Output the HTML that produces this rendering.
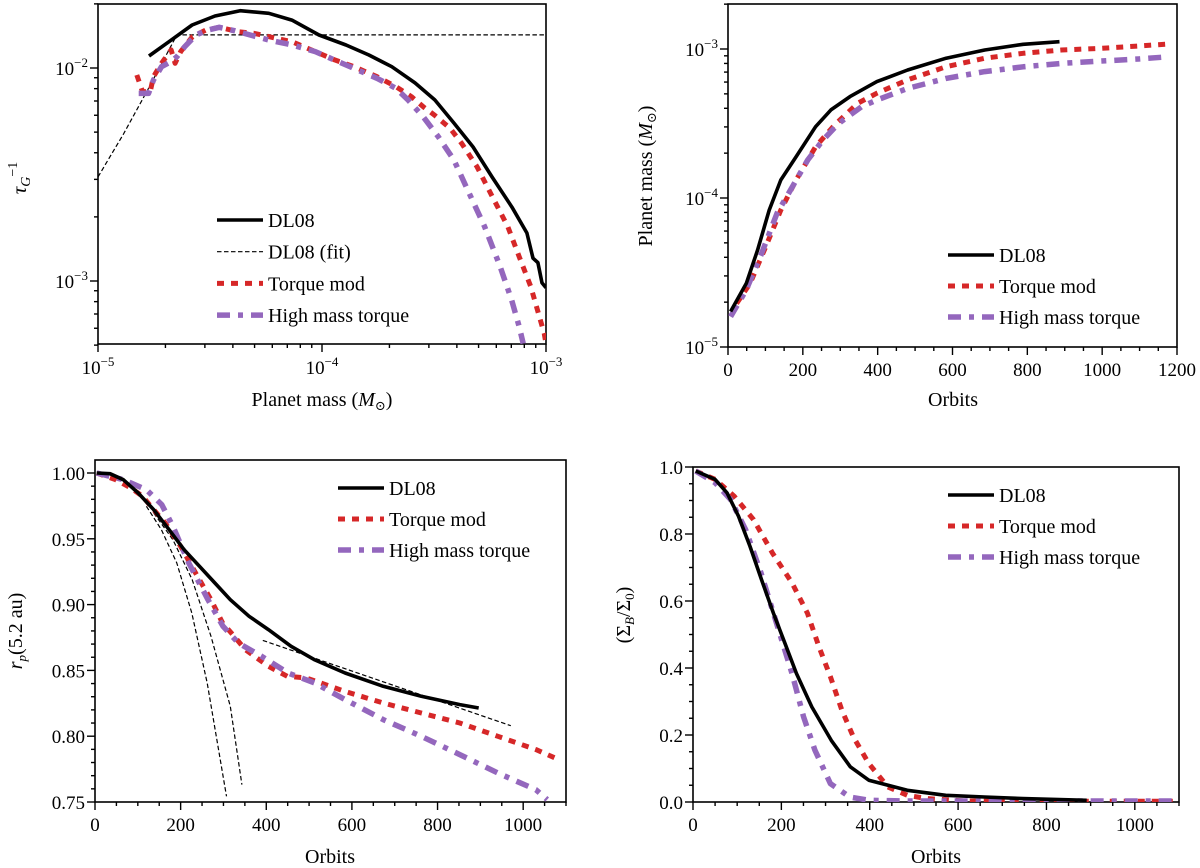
<!DOCTYPE html>
<html><head><meta charset="utf-8"><style>
html,body{margin:0;padding:0;background:#fff;}
svg{display:block;}
svg text{font-family:"Liberation Serif","DejaVu Serif",serif;}
</style></head><body>
<svg id="fig" width="1200" height="868" viewBox="0 0 1200 868" xmlns="http://www.w3.org/2000/svg" font-family="Liberation Serif, DejaVu Serif, serif"></svg>
<script>
// ---------- Panel 1 data (planet mass vs 1/tau_G) ----------
const p1DL08M = [1.69e-5,2.07e-5,2.63e-5,3.33e-5,4.31e-5,5.79e-5,7.34e-5,9.7e-5,1.28e-4,1.62e-4,2.05e-4,2.60e-4,3.19e-4,3.88e-4,4.72e-4,5.74e-4,7.05e-4,8.22e-4,8.75e-4,9.2e-4,9.6e-4,1.0e-3];
const p1DL08T = [0.01138,0.01327,0.01592,0.01754,0.01858,0.01807,0.01679,0.01429,0.01282,0.01151,0.01014,0.00851,0.00708,0.00552,0.00426,0.00308,0.00222,0.00168,0.00128,0.00122,0.00098,0.00093];
const p1FitM = [1e-5,1.3e-5,1.7e-5,2.25e-5,1e-3];
const p1FitT = [0.00308,0.0049,0.0082,0.0143,0.0143];
const p1TorqM = [1.49e-5,1.58e-5,1.71e-5,1.77e-5,1.92e-5,2.12e-5,2.21e-5,2.34e-5,2.64e-5,3.03e-5,3.48e-5,4.24e-5,4.96e-5,5.81e-5,7.36e-5,9.33e-5,1.14e-4,1.39e-4,1.76e-4,2.14e-4,2.51e-4,2.83e-4,3.18e-4,3.73e-4,4.20e-4,4.92e-4,5.76e-4,6.75e-4,7.59e-4,8.55e-4,9.25e-4,9.82e-4,1.0e-3];
const p1TorqT = [0.00927,0.00775,0.00775,0.0091,0.01052,0.01216,0.01052,0.01194,0.01403,0.01507,0.01552,0.01479,0.01455,0.01403,0.01327,0.01194,0.01092,0.01014,0.0091,0.00817,0.00733,0.00658,0.00601,0.00521,0.00443,0.00344,0.00249,0.0018,0.0013,0.00094,0.000705,0.000568,0.000509];
const p1HighM = [1.52e-5,1.68e-5,1.77e-5,1.92e-5,2.12e-5,2.25e-5,2.44e-5,2.74e-5,3.09e-5,3.48e-5,4.07e-5,4.96e-5,5.81e-5,7.36e-5,9.33e-5,1.18e-4,1.44e-4,1.76e-4,2.14e-4,2.42e-4,2.83e-4,3.31e-4,3.88e-4,4.54e-4,5.32e-4,6.24e-4,7.02e-4,7.59e-4,7.91e-4];
const p1HighT = [0.0076,0.0076,0.00879,0.01014,0.01072,0.0113,0.0126,0.0143,0.01507,0.01552,0.01496,0.01413,0.01352,0.01282,0.01194,0.01072,0.0098,0.00895,0.00803,0.00708,0.0059,0.00475,0.0037,0.00258,0.0018,0.00117,0.000815,0.00061,0.000509];
// ---------- Panel 2 data (orbits vs planet mass) ----------
const p2DL08O = [7,49,79,110,141,182,234,275,326,398,480,583,686,789,886];
const p2DL08M = [1.73e-5,2.67e-5,4.48e-5,8.3e-5,1.32e-4,1.89e-4,3.01e-4,3.9e-4,4.79e-4,6.04e-4,7.23e-4,8.67e-4,9.85e-4,1.076e-3,1.12e-3];
const p2TorqO = [23,59,100,141,182,234,285,347,398,480,583,686,789,891,994,1097,1179];
const p2TorqM = [1.96e-5,2.67e-5,4.65e-5,8.3e-5,1.32e-4,2.21e-4,3.09e-4,4.33e-4,5.05e-4,6.2e-4,7.61e-4,8.67e-4,9.36e-4,9.85e-4,1.01e-3,1.047e-3,1.08e-3];
const p2HighO = [7,49,90,131,172,213,254,296,357,398,480,583,686,789,891,994,1097,1158];
const p2HighM = [1.6e-5,2.42e-5,4.26e-5,7.9e-5,1.19e-4,1.8e-4,2.45e-4,3.17e-4,4.1e-4,4.55e-4,5.44e-4,6.35e-4,7.05e-4,7.6e-4,8.0e-4,8.3e-4,8.57e-4,8.8e-4];
// ---------- Panel 3 data (orbits vs r_p) ----------
const p3DL08O = [4,35,66,101,137,173,208,244,280,316,360,405,458,512,584,673,762,852,896];
const p3DL08R = [1.0,0.9995,0.9949,0.9848,0.9721,0.9569,0.9417,0.9291,0.9164,0.9037,0.8911,0.8810,0.8683,0.8582,0.8480,0.8379,0.8303,0.8240,0.8214];
const p3TorqO = [4,48,84,111,137,164,200,235,271,298,325,351,405,449,494,538,583,673,762,852,941,1030,1083];
const p3TorqR = [1.0,0.9949,0.9886,0.9823,0.9721,0.9620,0.9443,0.9240,0.9037,0.8860,0.8759,0.8658,0.8531,0.8455,0.8442,0.8392,0.8341,0.8252,0.8176,0.8100,0.7999,0.7898,0.7822];
const p3HighO = [4,66,120,156,182,219,264,299,335,389,451,513,584,673,762,852,941,1030,1056];
const p3HighR = [1.0,0.9949,0.9873,0.9759,0.9595,0.9316,0.9037,0.8835,0.8708,0.8607,0.8480,0.8404,0.8278,0.8126,0.7999,0.7860,0.7720,0.7593,0.7518];
const p3FitAO = [120,155,191,226,262,307];
const p3FitAR = [0.9747,0.9569,0.9316,0.8936,0.8404,0.7543];
const p3FitBO = [137,182,227,271,316,343];
const p3FitBR = [0.9696,0.9493,0.9189,0.8759,0.8227,0.7632];
const p3FitCO = [392,971];
const p3FitCR = [0.8728,0.8080];
// ---------- Panel 4 data (orbits vs Sigma ratio) ----------
const p4DL08O = [6,50,77,103,129,155,182,208,234,269,313,356,398,485,572,660,747,891];
const p4DL08S = [0.988,0.963,0.923,0.853,0.763,0.664,0.564,0.474,0.384,0.284,0.184,0.105,0.065,0.035,0.020,0.015,0.010,0.005];
const p4TorqO = [6,50,93,137,180,224,259,285,311,337,363,398,441,485,529,616,747,1096];
const p4TorqS = [0.988,0.963,0.913,0.843,0.743,0.654,0.564,0.464,0.374,0.274,0.194,0.115,0.045,0.020,0.010,0.003,0.002,0.002];
const p4HighO = [6,50,85,119,154,189,224,250,276,311,355,398,485,1096];
const p4HighS = [0.988,0.953,0.903,0.813,0.684,0.534,0.384,0.255,0.155,0.055,0.015,0.005,0.003,0.003];
// tick labels
const p3XTicks = [0,200,400,600,800,1000];
const p3YTicks = ["0.75","0.80","0.85","0.90","0.95","1.00"];
const p4YTicks = ["0.0","0.2","0.4","0.6","0.8","1.0"];
const p2XTicks = [0,200,400,600,800,1000,1200];

const NS = "http://www.w3.org/2000/svg";
const fig = document.getElementById('fig');
function mk(tag, attrs, parent){
  const e = document.createElementNS(NS, tag);
  for (const k in attrs) e.setAttribute(k, attrs[k]);
  (parent||fig).appendChild(e);
  return e;
}
const STY = {
  dl08: {stroke:'#000', 'stroke-width':3.6, fill:'none'},
  fit: {stroke:'#000', 'stroke-width':1.2, fill:'none', 'stroke-dasharray':'4.5,2.5'},
  torq: {stroke:'#d62728', 'stroke-width':5, fill:'none', 'stroke-dasharray':'7,7'},
  high: {stroke:'#9467bd', 'stroke-width':5.5, fill:'none', 'stroke-dasharray':'13,8,5,8'}
};
function line(xs, ys, sx, sy, name, clip){
  let d = '';
  for (let i=0;i<xs.length;i++) d += (i?'L':'M') + sx(xs[i]).toFixed(1) + ',' + sy(ys[i]).toFixed(1);
  const p = mk('path', Object.assign({d:d, 'clip-path':'url(#'+clip+')', 'stroke-linejoin':'round'}, STY[name]));
  
  
  return p;
}
function frame(x0,y0,x1,y1,id){
  const cp = mk('clipPath', {id:id});
  mk('rect', {x:x0,y:y0,width:x1-x0,height:y1-y0}, cp);
  const r = mk('rect', {x:x0,y:y0,width:x1-x0,height:y1-y0,fill:'none',stroke:'#000','stroke-width':1.6});
  
  
}
function tickX(x,y,len){ const t=mk('line',{x1:x,y1:y,x2:x,y2:y+len,stroke:'#000','stroke-width':1.4});
    }
function tickY(x,y,len){ const t=mk('line',{x1:x,y1:y,x2:x-len,y2:y,stroke:'#000','stroke-width':1.4});
    }
function text(x,y,s,anchor,size,name){
  const t = mk('text',{x:x,y:y,'text-anchor':anchor||'middle','font-size':size||19,fill:'#000'});
  t.textContent = s;
  
  
  return t;
}
function powLabel(x,y,exp,anchor,name){
  const t = mk('text',{x:x,y:y,'text-anchor':anchor,'font-size':19,fill:'#000'});
  
  
  const a = mk('tspan',{},t); a.textContent='10';
  const b = mk('tspan',{dy:-8,'font-size':13},t); b.textContent='\u2212'+exp;
}
function legend(x0,y0,dy,entries){
  entries.forEach((e,i)=>{
    const y = y0+i*dy;
    const l = mk('line', Object.assign({x1:x0,y1:y,x2:x0+46,y2:y}, STY[e[0]]));
    
    
    text(x0+51,y+7,e[1],'start',20,'legend-entry-'+e[0]);
  });
}

// ================= Panel 1 =================
(function(){
  const x0=98,x1=546,y0=4,y1=344;
  const sx = v => x0 + (Math.log10(v)+5)/2*(x1-x0);
  const sy = v => 68 + (-2-Math.log10(v))*213;
  frame(x0,y0,x1,y1,'c1');
  line(p1FitM,p1FitT,sx,sy,'fit','c1');
  line(p1TorqM,p1TorqT,sx,sy,'torq','c1');
  line(p1HighM,p1HighT,sx,sy,'high','c1');
  line(p1DL08M,p1DL08T,sx,sy,'dl08','c1');
  for (let e=-5;e<=-3;e++){
    tickX(sx(Math.pow(10,e)),y1,8);
    if (e<-3) for (let m=2;m<10;m++) tickX(sx(m*Math.pow(10,e)),y1,4);
  }
  powLabel(sx(1e-5),y1+30,5,'middle','x-tick-label');
  powLabel(sx(1e-4),y1+30,4,'middle','x-tick-label');
  powLabel(sx(1e-3),y1+30,3,'middle','x-tick-label');
  [1e-3,1e-2].forEach(v=>tickY(x0,sy(v),8));
  [5e-4,6e-4,7e-4,8e-4,9e-4,2e-3,3e-3,4e-3,5e-3,6e-3,7e-3,8e-3,9e-3,2e-2].forEach(v=>{ if(sy(v)>=y0-0.5) tickY(x0,sy(v),4); });
  powLabel(x0-10,sy(1e-2)+7,2,'end','y-tick-label');
  powLabel(x0-10,sy(1e-3)+7,3,'end','y-tick-label');
  const xl = mk('text',{x:322,y:406,'text-anchor':'middle','font-size':20});
   
  xl.innerHTML = 'Planet mass (<tspan font-style="italic">M</tspan><tspan font-size="13" dy="4">\u2299</tspan><tspan dy="-4">)</tspan>';
  const yl = mk('text',{x:0,y:0,'text-anchor':'middle','font-size':21,transform:'translate(26,178) rotate(-90)'});
   
  yl.innerHTML = '<tspan font-style="italic">\u03C4</tspan><tspan font-style="italic" font-size="14" dy="4">G</tspan><tspan font-size="14" dy="-13">\u22121</tspan>';
  legend(217,220,31.7,[['dl08','DL08'],['fit','DL08 (fit)'],['torq','Torque mod'],['high','High mass torque']]);
})();

// ================= Panel 2 =================
(function(){
  const x0=728,x1=1177,y0=4,y1=347;
  const sx = v => x0 + v/1200*(x1-x0);
  const sy = v => 49 + (-3-Math.log10(v))*149;
  frame(x0,y0,x1,y1,'c2');
  line(p2TorqO,p2TorqM,sx,sy,'torq','c2');
  line(p2HighO,p2HighM,sx,sy,'high','c2');
  line(p2DL08O,p2DL08M,sx,sy,'dl08','c2');
  for (let v=0;v<=1200;v+=50) tickX(sx(v),y1,v%200===0?8:4);
  p2XTicks.forEach(v=>text(sx(v),y1+29,String(v),'middle',19,'x-tick-label'));
  [1e-5,1e-4,1e-3].forEach(v=>tickY(x0,sy(v),8));
  [2e-5,3e-5,4e-5,5e-5,6e-5,7e-5,8e-5,9e-5,2e-4,3e-4,4e-4,5e-4,6e-4,7e-4,8e-4,9e-4,2e-3].forEach(v=>{ if(sy(v)>=y0-0.5) tickY(x0,sy(v),4); });
  powLabel(x0-10,sy(1e-3)+7,3,'end','y-tick-label');
  powLabel(x0-10,sy(1e-4)+7,4,'end','y-tick-label');
  powLabel(x0-10,sy(1e-5)+7,5,'end','y-tick-label');
  text(953,406,'Orbits','middle',20,'x-axis-title');
  const yl = mk('text',{x:0,y:0,'text-anchor':'middle','font-size':20,transform:'translate(652,176) rotate(-90)'});
   
  yl.innerHTML = 'Planet mass (<tspan font-style="italic">M</tspan><tspan font-size="13" dy="4">\u2299</tspan><tspan dy="-4">)</tspan>';
  legend(948,255,31,[['dl08','DL08'],['torq','Torque mod'],['high','High mass torque']]);
})();

// ================= Panel 3 =================
(function(){
  const x0=95,x1=566,y0=460,y1=802;
  const sx = v => x0 + v/1100*(x1-x0);
  const sy = v => 473 + (1-v)/0.25*(802-473);
  frame(x0,y0,x1,y1,'c3');
  line(p3FitAO,p3FitAR,sx,sy,'fit','c3');
  line(p3FitBO,p3FitBR,sx,sy,'fit','c3');
  line(p3FitCO,p3FitCR,sx,sy,'fit','c3');
  line(p3TorqO,p3TorqR,sx,sy,'torq','c3');
  line(p3HighO,p3HighR,sx,sy,'high','c3');
  line(p3DL08O,p3DL08R,sx,sy,'dl08','c3');
  for (let v=0;v<=1100;v+=50) tickX(sx(v),y1,v%200===0?8:4);
  p3XTicks.forEach(v=>text(sx(v),y1+29,String(v),'middle',19,'x-tick-label'));
  for (let k=0;k<=26;k++){ const v=0.75+k*0.01; if (sy(v)>=y0) tickY(x0,sy(v),k%5===0?8:4); }
  p3YTicks.forEach(s=>text(x0-10,sy(parseFloat(s))+7,s,'end',19,'y-tick-label'));
  text(330,863,'Orbits','middle',20,'x-axis-title');
  const yl = mk('text',{x:0,y:0,'text-anchor':'middle','font-size':20,transform:'translate(22,631) rotate(-90)'});
   
  yl.innerHTML = '<tspan font-style="italic">r</tspan><tspan font-style="italic" font-size="13" dy="4">p</tspan><tspan dy="-4">(5.2 au)</tspan>';
  legend(338,488,31,[['dl08','DL08'],['torq','Torque mod'],['high','High mass torque']]);
})();

// ================= Panel 4 =================
(function(){
  const x0=693,x1=1179,y0=467,y1=802;
  const sx = v => x0 + v/1100*(x1-x0);
  const sy = v => y1 - v*(y1-y0);
  frame(x0,y0,x1,y1,'c4');
  line(p4TorqO,p4TorqS,sx,sy,'torq','c4');
  line(p4HighO,p4HighS,sx,sy,'high','c4');
  line(p4DL08O,p4DL08S,sx,sy,'dl08','c4');
  for (let v=0;v<=1100;v+=50) tickX(sx(v),y1,v%200===0?8:4);
  p3XTicks.forEach(v=>text(sx(v),y1+29,String(v),'middle',19,'x-tick-label'));
  for (let k=0;k<=20;k++) tickY(x0,sy(k*0.05),k%4===0?8:4);
  p4YTicks.forEach(s=>text(x0-10,sy(parseFloat(s))+7,s,'end',19,'y-tick-label'));
  text(936,863,'Orbits','middle',20,'x-axis-title');
  const yl = mk('text',{x:0,y:0,'text-anchor':'middle','font-size':20,transform:'translate(630,615) rotate(-90)'});
   
  yl.innerHTML = '(\u03A3<tspan font-style="italic" font-size="13" dy="4">B</tspan><tspan dy="-4">/\u03A3</tspan><tspan font-size="13" dy="4">0</tspan><tspan dy="-4">)</tspan>';
  legend(948,495,31,[['dl08','DL08'],['torq','Torque mod'],['high','High mass torque']]);
})();
</script>
</body></html>
